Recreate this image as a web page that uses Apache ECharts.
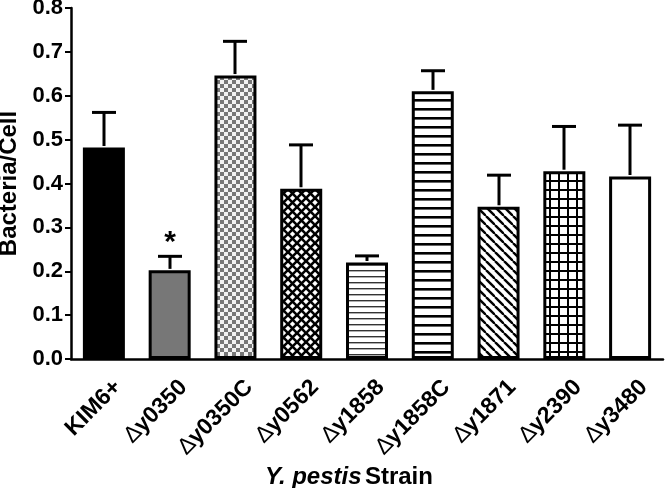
<!DOCTYPE html>
<html>
<head>
<meta charset="utf-8">
<script src="https://cdn.jsdelivr.net/npm/echarts@6/dist/echarts.min.js"></script>
<style>
html,body{margin:0;padding:0;background:#fff;}
#chart{width:666px;height:488px;}
</style>
</head>
<body>
<div id="chart"></div>
<script>
const categories = ['KIM6+', '∆y0350', '∆y0350C', '∆y0562', '∆y1858', '∆y1858C', '∆y1871', '∆y2390', '∆y3480'];
const means = [0.482, 0.202, 0.646, 0.388, 0.220, 0.610, 0.347, 0.428, 0.416];
const upperErrors = [0.562, 0.234, 0.724, 0.488, 0.235, 0.657, 0.419, 0.530, 0.533];
const significance = ['', '*', '', '', '', '', '', '', ''];
const yTicks = [0, 0.1, 0.2, 0.3, 0.4, 0.5, 0.6, 0.7, 0.8];

const FONT = '"Liberation Sans", Arial, Helvetica, sans-serif';

function pattern(w, h, draw) {
  const c = document.createElement('canvas');
  c.width = w; c.height = h;
  const g = c.getContext('2d');
  g.fillStyle = '#fff';
  g.fillRect(0, 0, w, h);
  draw(g, w, h);
  return { image: c, repeat: 'repeat' };
}
const checker = pattern(8, 8, (g) => {
  g.fillStyle = '#f2f2f2'; g.fillRect(0, 0, 8, 8);
  g.fillStyle = '#777'; g.fillRect(0, 0, 4, 4); g.fillRect(4, 4, 4, 4);
});
const diamonds = pattern(9, 9, (g) => {
  g.strokeStyle = '#000'; g.lineWidth = 2.6;
  for (const o of [-9, 0, 9]) {
    g.beginPath(); g.moveTo(o, 0); g.lineTo(o + 9, 9); g.stroke();
    g.beginPath(); g.moveTo(o + 9, 0); g.lineTo(o, 9); g.stroke();
  }
});
const thinH = pattern(6, 6, (g) => {
  g.fillStyle = '#333'; g.fillRect(0, 0, 6, 1.4);
});
const thickH = pattern(9, 9, (g) => {
  g.fillStyle = '#000'; g.fillRect(0, 0, 9, 2.6);
});
const diagonal = pattern(9, 9, (g) => {
  g.strokeStyle = '#000'; g.lineWidth = 2.4;
  for (const o of [-9, 0, 9]) {
    g.beginPath(); g.moveTo(o, 0); g.lineTo(o + 9, 9); g.stroke();
  }
});
const grid = pattern(9, 9, (g) => {
  g.fillStyle = '#000'; g.fillRect(0, 0, 9, 2); g.fillRect(0, 0, 2, 9);
});
const fills = ['#000', '#777', checker, diamonds, thinH, thickH, diagonal, grid, '#fff'];

const chart = echarts.init(document.getElementById('chart'), null, { renderer: 'canvas' });
chart.setOption({
  animation: false,
  backgroundColor: '#fff',
  grid: { left: 71, right: 3, top: 8, bottom: 129, containLabel: false, outerBoundsMode: 'none' },
  xAxis: {
    type: 'category',
    data: categories,
    boundaryGap: true,
    axisLine: { lineStyle: { color: '#000', width: 2.5 } },
    axisTick: { alignWithLabel: true, length: 6, lineStyle: { color: '#000', width: 2 } },
    axisLabel: {
      rotate: 45,
      margin: 11,
      verticalAlign: 'top',
      padding: [8, 0, 0, 0],
      color: '#000',
      fontFamily: FONT,
      formatter: (v) => v.charAt(0) === '∆' ? '{d|∆}{b|' + v.slice(1) + '}' : '{b|' + v + '}',
      rich: {
        d: { fontSize: 23, fontWeight: 'normal', fontFamily: FONT, color: '#000' },
        b: { fontSize: 23, fontWeight: 'bold', fontFamily: FONT, color: '#000' }
      }
    },
    name: '{it|Y. pestis} {b|Strain}',
    nameLocation: 'middle',
    nameGap: 95,
    nameTextStyle: {
      padding: [0, 36, 0, 0],
      rich: {
        it: { fontSize: 24, fontWeight: 'bold', fontStyle: 'italic', fontFamily: FONT, color: '#000' },
        b: { fontSize: 24, fontWeight: 'bold', fontFamily: FONT, color: '#000' }
      }
    }
  },
  yAxis: {
    type: 'value',
    min: yTicks[0],
    max: yTicks[yTicks.length - 1],
    interval: 0.1,
    splitLine: { show: false },
    axisLine: { show: true, lineStyle: { color: '#000', width: 2.5 } },
    axisTick: { show: true, length: 6, lineStyle: { color: '#000', width: 2 } },
    axisLabel: {
      margin: 8,
      color: '#000',
      fontSize: 22,
      fontWeight: 'bold',
      fontFamily: FONT,
      formatter: (v) => v.toFixed(1)
    },
    name: 'Bacteria/Cell',
    nameLocation: 'middle',
    nameRotate: 90,
    nameGap: 49,
    nameTextStyle: { fontSize: 24, fontWeight: 'bold', fontFamily: FONT, color: '#000' }
  },
  series: [
    {
      type: 'bar',
      barWidth: 42,
      data: means.map((v, i) => ({
        value: v,
        itemStyle: { color: fills[i], borderColor: '#000', borderWidth: 3 }
      })),
      z: 2
    },
    {
      type: 'custom',
      z: 3,
      data: means.map((v, i) => [i, v, upperErrors[i]]),
      renderItem: (params, api) => {
        const i = api.value(0);
        const base = api.coord([i, api.value(1)]);
        const top = api.coord([i, api.value(2)]);
        const x = Math.round(base[0]);
        const children = [
          { type: 'line', shape: { x1: x, y1: base[1] - 1.5, x2: x, y2: top[1] }, style: { stroke: '#000', lineWidth: 3 } },
          { type: 'line', shape: { x1: x - 12, y1: top[1], x2: x + 12, y2: top[1] }, style: { stroke: '#000', lineWidth: 3 } }
        ];
        const s = significance[i];
        if (s) {
          children.push({
            type: 'text',
            style: {
              text: s, x: x, y: top[1] - 14,
              textAlign: 'center', textVerticalAlign: 'middle',
              font: 'bold 30px ' + FONT, fill: '#000'
            }
          });
        }
        return { type: 'group', children: children };
      }
    }
  ]
});
</script>
</body>
</html>
